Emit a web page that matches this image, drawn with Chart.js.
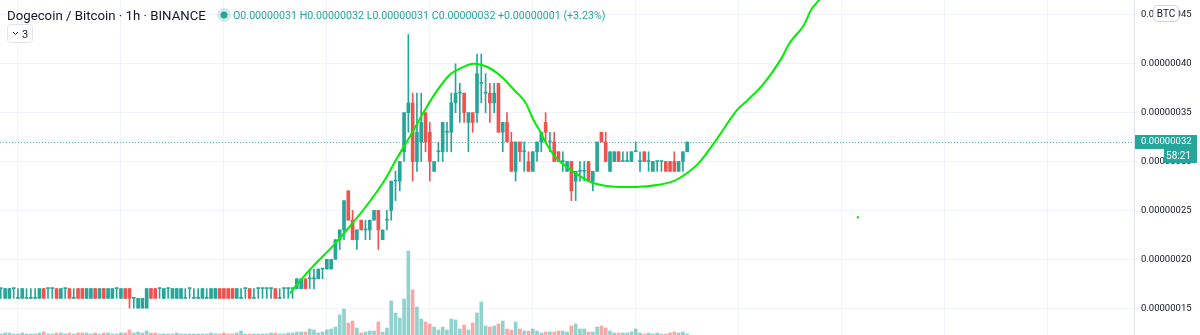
<!DOCTYPE html>
<html>
<head>
<meta charset="utf-8">
<script src="https://cdn.jsdelivr.net/npm/chart.js@4.4.1/dist/chart.umd.min.js"></script>
<style>
  html, body { margin: 0; padding: 0; background: #fff; }
  #wrap { width: 1200px; height: 335px; position: relative; }
</style>
</head>
<body>
<div id="wrap"><canvas id="myChart"></canvas></div>
<script>
// DOGE/BTC 1h candles, prices in satoshi (1e-8 BTC), one entry per hour
const open = [
    17,16,16,17,16,16,16,16,16,16, 17,17,17,17,16,17,17,16,17,17,
    16,16,17,16,17,16,16,17,16,17, 17,16,15,15,15,17,17,17,16,17,
    16,16,16,16,17,16,16,16,16,16, 16,17,17,17,17,16,16,17,17,16,
    17,17,17,17,17,16,17,17,17,
    17,17,18,18,18,18,19,19,19,20, 22,23,27,24,22,24,23,23,24,25,
    22,24,25,28,28,31,35,36,30,32, 35,33,29,31,31,33,33,36,37,37,
    34,35,35,38,37,37,36,38,33,34, 32,29,32,31,30,29,31,32,34,32,
    32,31,30,29,30,28,29,29,30,28, 29,33,32,29,30,31,30,30,30,31,
    30,31,30,29,30,30,30,30,30,29, 30,31
];
const high = [
    17,17,17,17,17,17,17,17,17,17, 17,17,17,17,17,17,17,17,17,17,
    17,17,17,17,17,17,17,17,17,17, 17,16,16,16,17,17,17,17,17,17,
    17,17,17,17,17,17,17,17,17,17, 17,17,17,17,17,17,17,17,17,17,
    17,17,17,17,17,17,17,17,17,
    18,18,18,19,19,19,19,20,20,22, 23,26,27,25,23,24,24,24,25,25,
    23,25,28,29,30,35,43,37,37,37, 35,34,30,32,34,34,37,40,38,37,
    35,35,41,41,39,38,38,38,34,35, 33,32,32,32,31,31,32,33,35,33,
    33,31,31,30,30,29,30,30,30,29, 32,33,33,31,31,31,31,31,31,32,
    31,31,31,30,30,30,30,30,31,30, 31,32
];
const low = [
    16,16,16,16,16,16,16,16,16,16, 16,16,16,16,16,16,16,16,16,16,
    16,16,16,16,16,16,16,16,16,16, 15,15,15,15,15,16,16,16,16,16,
    16,16,16,16,16,16,16,16,16,16, 16,16,16,16,16,16,16,16,16,16,
    16,16,16,16,16,16,16,16,16,
    17,17,17,17,17,18,18,19,19,20, 21,22,24,22,21,23,22,22,24,21,
    22,23,24,26,27,30,33,28,29,30, 31,28,29,30,30,31,31,35,34,34,
    31,33,34,36,35,34,35,33,31,32, 29,28,30,29,29,29,30,31,32,31,
    30,30,29,29,26,26,28,28,28,27, 29,32,30,29,30,30,30,30,30,31,
    29,30,29,29,29,29,29,29,29,29, 29,31
];
const close = [
    17,17,17,17,16,17,16,16,16,17, 16,17,17,16,17,17,16,16,16,16,
    17,17,16,17,16,17,17,17,17,16, 16,16,16,16,17,16,16,17,17,17,
    17,17,17,16,17,16,16,17,16,17, 17,16,16,16,16,17,16,17,16,16,
    17,17,17,17,16,16,17,17,17,
    18,18,17,18,18,19,19,20,20,22, 23,26,24,22,23,23,23,24,25,23,
    23,24,28,28,30,35,36,30,33,34, 32,30,30,31,34,33,36,37,37,35,
    35,34,39,38,37,36,37,33,34,32, 29,32,31,31,29,31,32,33,33,32,
    30,30,30,30,27,29,29,29,28,29, 32,32,30,31,31,30,30,30,31,31,
    30,30,30,30,30,30,29,29,29,30, 31,32
];
// volume, thousands of DOGE
const volume = [
    1,2,2,1,1,2,1,1,1,2, 3,1,1,2,2,1,2,1,2,2,
    2,1,2,1,2,2,1,1,2,2, 5,2,3,2,4,2,2,1,1,1,
    1,2,1,1,1,1,1,1,1,2, 1,1,2,1,1,2,4,1,1,1,
    1,1,1,2,2,1,1,2,2,
    3,3,3,6,5,2,3,5,6,8, 20,26,12,14,7,2,3,4,4,13,
    3,7,34,22,17,36,84,45,28,16, 13,11,8,5,8,5,16,15,6,10,
    5,12,22,33,9,8,9,11,14,6, 5,13,6,4,4,6,4,2,3,3,
    3,4,4,3,9,11,6,6,3,3, 8,9,7,4,2,2,2,2,3,6,
    2,1,2,1,2,1,1,2,3,2, 3,1
];

// hand drawn brush line (hour index, price in satoshi)
const brushX = [67.4, 68.8, 72.8, 77.5, 81.4, 85.3, 89.2, 92.3, 95.4, 98.5, 101.6, 104.7, 107, 110.1,
    113.3, 116.4, 119.5, 122.2, 124.1, 125.7, 127.2, 129.6, 132.7, 135, 138.1, 141.2, 144.3, 148.2,
    152.9, 156.8, 159.9, 163, 166.9, 171.5, 173.9, 177.7, 181.6, 184, 187.1, 189, 190.9, 192.5];
const brushY = [16.5, 17.3, 19.3, 21.4, 23.4, 25.5, 27.9, 30.3, 32.6, 35.0, 37.2, 38.9, 39.5, 40.0,
    39.7, 38.8, 37.4, 36.1, 34.3, 33.1, 31.8, 30.3, 29.2, 28.5, 27.8, 27.5, 27.4, 27.4,
    27.6, 28.0, 28.8, 30.0, 32.3, 35.2, 36.2, 37.9, 40.3, 42.2, 43.9, 45.6, 46.6, 47.5];
const strayDot = [{ x: 199.8, y: 24.3 }];

const priceTicks = [15, 20, 25, 30, 35, 40, 45];
const dayTicks = [4, 28, 52, 76, 100, 124, 148, 172, 196, 220, 244];

const UP = '#26a69a';
const DOWN = '#ef5350';
const FONT = 'Roboto, "Liberation Sans", sans-serif';

const isUp = close.map((c, i) => c >= open[i]);
const candleColors = isUp.map((u) => (u ? UP : DOWN));
const volColors = isUp.map((u) => (u ? 'rgba(38,166,154,0.5)' : 'rgba(239,83,80,0.5)'));

// draw text scaled to a given width
function fitText(ctx, text, x, y, width) {
    ctx.font = '20px ' + FONT;
    const size = (20 * width) / ctx.measureText(text).width;
    ctx.font = size.toFixed(2) + 'px ' + FONT;
    ctx.fillText(text, x, y);
}

const overlay = {
    id: 'overlay',
    beforeDatasetsDraw(chart) {
        const { ctx, chartArea, scales } = chart;
        const py = Math.round(scales.y.getPixelForValue(close[close.length - 1])) + 0.5;
        ctx.save();
        ctx.strokeStyle = 'rgba(38,166,154,0.8)';
        ctx.lineWidth = 1;
        ctx.setLineDash([1, 2]);
        ctx.beginPath();
        ctx.moveTo(chartArea.left, py);
        ctx.lineTo(chartArea.right, py);
        ctx.stroke();
        ctx.restore();
    },
    afterDraw(chart) {
        const { ctx, chartArea, scales, width } = chart;
        const last = close[close.length - 1];
        const py = Math.round(scales.y.getPixelForValue(last));
        ctx.save();

        // last price + countdown
        ctx.fillStyle = UP;
        ctx.fillRect(chartArea.right + 1, py - 7, width - chartArea.right - 4, 14);
        ctx.fillRect(width - 36, py + 7, 33, 14);
        ctx.fillStyle = '#fff';
        ctx.font = '9.5px ' + FONT;
        ctx.textBaseline = 'middle';
        ctx.textAlign = 'left';
        ctx.fillText((last * 1e-8).toFixed(8), chartArea.right + 7, py);
        ctx.textAlign = 'right';
        ctx.font = '10px ' + FONT;
        ctx.fillText('58:21', width - 9, py + 14);

        // currency badge
        ctx.beginPath();
        ctx.roundRect(width - 46.5, 5.5, 25, 16, 4);
        ctx.fillStyle = '#fff';
        ctx.fill();
        ctx.strokeStyle = '#d1d4dc';
        ctx.stroke();
        ctx.fillStyle = '#131722';
        ctx.textAlign = 'center';
        ctx.font = '10px ' + FONT;
        ctx.fillText('BTC', width - 34, 14);

        // title + OHLC legend
        ctx.textAlign = 'left';
        ctx.textBaseline = 'alphabetic';
        ctx.fillStyle = '#131722';
        fitText(ctx, 'Dogecoin / Bitcoin · 1h · BINANCE', 7, 20, 199);
        ctx.beginPath();
        ctx.arc(224, 15, 7, 0, Math.PI * 2);
        ctx.fillStyle = 'rgba(38,166,154,0.2)';
        ctx.fill();
        ctx.beginPath();
        ctx.arc(224, 15, 3.5, 0, Math.PI * 2);
        ctx.fillStyle = UP;
        ctx.fill();

        const n = close.length - 1;
        const f = (v) => (v * 1e-8).toFixed(8);
        const chg = close[n] - close[n - 1];
        const pct = (chg / close[n - 1]) * 100;
        const legend = 'O' + f(open[n]) + ' H' + f(high[n]) + ' L' + f(low[n]) + ' C' + f(close[n]) +
            ' +' + f(chg) + ' (+' + pct.toFixed(2) + '%)';
        ctx.fillStyle = UP;
        fitText(ctx, legend, 233, 19, 373);

        // collapse button
        ctx.beginPath();
        ctx.roundRect(7.5, 24.5, 25, 18, 3);
        ctx.fillStyle = '#fff';
        ctx.fill();
        ctx.strokeStyle = '#e0e3eb';
        ctx.stroke();
        ctx.beginPath();
        ctx.moveTo(13, 32);
        ctx.lineTo(15.5, 34.5);
        ctx.lineTo(18, 32);
        ctx.strokeStyle = '#131722';
        ctx.stroke();
        ctx.fillStyle = '#131722';
        ctx.font = '11px ' + FONT;
        ctx.fillText('3', 22, 38);
        ctx.restore();
    },
};

function createCandleChart() {
    const ctx = document.getElementById('myChart').getContext('2d');
    const idx = close.map((_, i) => i);

    new Chart(ctx, {
        type: 'bar',
        data: {
            datasets: [
                {
                    type: 'line',
                    label: 'brush',
                    data: brushX.map((x, i) => ({ x, y: brushY[i] })),
                    borderColor: '#00ee00',
                    borderWidth: 2,
                    pointRadius: 0,
                    tension: 0.35,
                    fill: false,
                    order: 0,
                },
                {
                    type: 'scatter',
                    label: 'dot',
                    data: strayDot,
                    backgroundColor: '#00ee00',
                    borderWidth: 0,
                    pointRadius: 1.2,
                    order: 0,
                },
                {
                    label: 'body',
                    data: idx.map((i) => ({ x: i, y: [open[i], close[i]] })),
                    backgroundColor: candleColors,
                    barThickness: 3,
                    minBarLength: 1,
                    grouped: false,
                    order: 1,
                },
                {
                    label: 'wick',
                    data: idx.map((i) => ({ x: i, y: [low[i], high[i]] })),
                    backgroundColor: candleColors,
                    barThickness: 1,
                    grouped: false,
                    order: 2,
                },
                {
                    label: 'volume',
                    data: idx.map((i) => ({ x: i, y: volume[i] })),
                    backgroundColor: volColors,
                    barThickness: 3,
                    grouped: false,
                    yAxisID: 'yVol',
                    order: 3,
                },
            ],
        },
        options: {
            responsive: true,
            maintainAspectRatio: false,
            animation: false,
            layout: { padding: 0, autoPadding: false },
            plugins: {
                legend: { display: false },
                tooltip: { enabled: false },
            },
            scales: {
                x: {
                    type: 'linear',
                    min: -0.19,
                    max: 264.15,
                    offset: false,
                    afterBuildTicks: (scale) => {
                        scale.ticks = dayTicks.map((v) => ({ value: v }));
                    },
                    afterFit: (scale) => {
                        scale.height = 0;
                    },
                    ticks: { display: false },
                    grid: { color: '#f0f3fa', drawTicks: false, offset: false },
                    border: { display: false },
                },
                y: {
                    position: 'right',
                    min: 12.25,
                    max: 46.53,
                    afterBuildTicks: (scale) => {
                        scale.ticks = priceTicks.map((v) => ({ value: v }));
                    },
                    afterFit: (scale) => {
                        scale.width = 66;
                        scale.paddingTop = 0;
                        scale.paddingBottom = 0;
                    },
                    ticks: {
                        color: '#131722',
                        font: { family: FONT, size: 9.5 },
                        padding: 3,
                        callback: (v) => (v * 1e-8).toFixed(8),
                    },
                    grid: { color: '#f0f3fa', tickLength: 4 },
                    border: { color: '#e0e3eb' },
                },
                yVol: {
                    display: false,
                    min: 0,
                    max: 335,
                },
            },
        },
        plugins: [overlay],
    });
}

createCandleChart();
</script>
</body>
</html>
